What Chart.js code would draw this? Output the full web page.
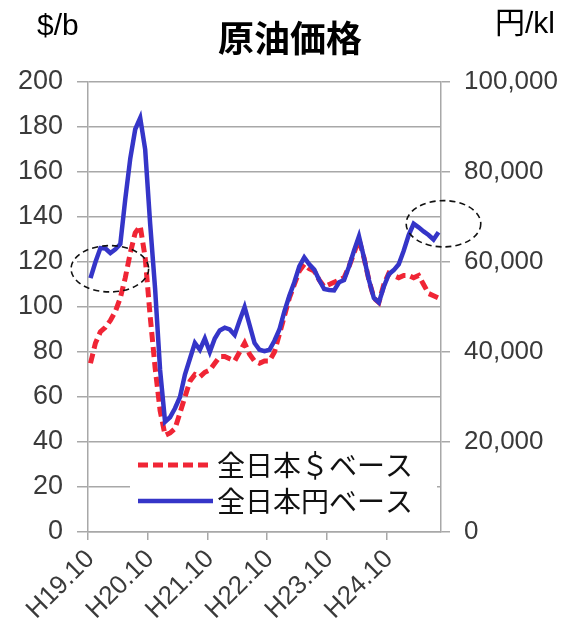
<!DOCTYPE html>
<html>
<head>
<meta charset="utf-8">
<script src="https://cdn.jsdelivr.net/npm/chart.js@4"></script>
<style>
  body { margin: 0; background: #fff; }
  canvas { display: block; }
</style>
</head>
<body>
<canvas id="oilChart" width="570" height="640"></canvas>
<script>
// monthly, H19.10 (Oct 2007) through H25.8
var months = [];
for (var i = 0; i < 71; i++) {
    var m = (9 + i) % 12 + 1;
    var y = 19 + Math.floor((9 + i) / 12);
    months.push("H" + y + "." + m);
}

// 全日本 CIF, $/b
var dollarPerBarrel = [
    75, 84, 89, 91, 94, 98, 104, 113, 124, 133, 136, 122,
    96, 73, 54, 43, 44, 46, 53, 60, 67, 70, 69, 71,
    72, 75, 78, 78, 77, 76, 80, 84, 79, 76, 75, 76,
    76, 80, 88, 96, 104, 110, 116, 119, 117, 116, 112, 109,
    110, 111, 112, 113, 118, 124, 130, 122, 112, 104, 102, 110,
    115, 114, 113, 114, 114, 113, 114, 110, 106, 105, 104
];

// 全日本 CIF, 円/kl
var yenPerKl = [
    56400, 60000, 63100, 63000, 62000, 62800, 64000, 74000, 83000, 89500, 92000, 85000,
    68500, 54000, 36000, 24500, 25500, 27500, 30000, 35000, 38500, 42000, 40500, 43000,
    40000, 43000, 44800, 45400, 45000, 43800, 47000, 50000, 46000, 42000, 40500, 40200,
    40500, 42500, 45000, 49000, 52500, 55500, 59000, 61000, 59500, 58300, 56000, 54000,
    53800, 53700, 55500, 56000, 59000, 62500, 65700, 61000, 56000, 52000, 51000, 54500,
    57300, 58200, 59500, 62500, 66000, 68500, 67700, 66800, 66000, 65000, 66600
];

var usdTicks = [0, 20, 40, 60, 80, 100, 120, 140, 160, 180, 200];
var yenTicks = [0, 20000, 40000, 60000, 80000, 100000];

var gridColor = "#a8a8a8";
var tickColor = "#3a3a3a";
var latinFont = "'Liberation Sans', Arial, 'Noto Sans CJK JP', sans-serif";
var jpFont = "'Noto Sans CJK JP', 'Liberation Sans', sans-serif";

// dashed rings: centre (category index, $/b) and radii (categories, $/b)
var rings = [
    { x: 3.9, y: 117, rx: 7.8, ry: 10.3 },
    { x: 71, y: 137, rx: 7.5, ry: 10.3 }
];

var extras = {
    id: "extras",
    afterDatasetsDraw: function (chart) {
        var c = chart.ctx;
        var xs = chart.scales.x;
        var ys = chart.scales.yUsd;
        var step = xs.getPixelForValue(1) - xs.getPixelForValue(0);
        var unit = ys.getPixelForValue(0) - ys.getPixelForValue(1);

        c.save();
        c.strokeStyle = "#111";
        c.lineWidth = 1.6;
        c.setLineDash([6, 4]);
        rings.forEach(function (r) {
            c.beginPath();
            c.ellipse(xs.getPixelForValue(r.x), ys.getPixelForValue(r.y),
                r.rx * step, r.ry * unit, 0, 0, Math.PI * 2);
            c.stroke();
        });
        c.restore();

        // legend box inside the plot
        var area = chart.chartArea;
        var left = area.left + 42, right = area.right - 4;
        var top = area.bottom - 85, bottom = area.bottom - 4;
        c.save();
        c.fillStyle = "#fff";
        c.fillRect(left, top, right - left, bottom - top);
        var items = [chart.data.datasets[1], chart.data.datasets[0]];
        items.forEach(function (ds, k) {
            var ly = top + 18 + k * 36;
            c.strokeStyle = ds.borderColor;
            c.lineWidth = ds.borderWidth;
            c.setLineDash(ds.borderDash || []);
            c.beginPath();
            c.moveTo(left + 8, ly);
            c.lineTo(left + 83, ly);
            c.stroke();
            c.fillStyle = "#111";
            c.font = "28px " + jpFont;
            c.textBaseline = "middle";
            c.textAlign = "left";
            c.fillText(ds.label, left + 87, ly);
        });
        c.restore();
    },
    afterDraw: function (chart) {
        var c = chart.ctx;
        c.save();
        c.fillStyle = "#000";
        c.textBaseline = "middle";
        c.textAlign = "center";
        c.font = "bold 36px " + jpFont;
        c.fillText("原油価格", 290, 38);
        c.textAlign = "left";
        c.font = "30px " + latinFont;
        c.fillText("$/b", 37, 27);
        c.fillText("円/kl", 495, 25);
        c.restore();
    }
};

var ctx = document.getElementById("oilChart");
var oilChart = new Chart(ctx, {
    type: "line",
    data: {
        labels: months,
        datasets: [{
            label: "全日本円ベース",
            data: yenPerKl,
            yAxisID: "yYen",
            borderColor: "#3535c8",
            borderWidth: 4.5,
            pointRadius: 0,
            tension: 0,
            order: 0
        }, {
            label: "全日本＄ベース",
            data: dollarPerBarrel,
            yAxisID: "yUsd",
            borderColor: "#f02535",
            borderWidth: 5,
            borderDash: [10, 5],
            pointRadius: 0,
            tension: 0,
            order: 1
        }]
    },
    options: {
        responsive: false,
        animation: false,
        layout: { padding: { top: 82, left: 0, right: 0, bottom: 0 } },
        plugins: {
            legend: { display: false },
            tooltip: { enabled: false },
            title: { display: false }
        },
        scales: {
            x: {
                offset: true,
                afterFit: function (s) { s.height = 108; },
                grid: {
                    offset: true,
                    drawOnChartArea: false,
                    tickLength: 8,
                    lineWidth: 1.5,
                    color: function (c) { return c.index % 12 === 0 ? gridColor : "transparent"; }
                },
                border: { color: gridColor, width: 1.5 },
                ticks: {
                    autoSkip: false,
                    minRotation: 45,
                    maxRotation: 45,
                    padding: 4,
                    color: tickColor,
                    font: { size: 26, family: latinFont },
                    callback: function (v, i) { return i % 12 === 0 ? months[i] : ""; }
                }
            },
            yUsd: {
                position: "left",
                min: 0,
                max: 200,
                afterFit: function (s) { s.width = 88; },
                afterBuildTicks: function (s) { s.ticks = usdTicks.map(function (v) { return { value: v }; }); },
                grid: { color: gridColor, lineWidth: 1.5, tickLength: 11 },
                border: { color: gridColor, width: 1.5 },
                ticks: {
                    padding: 14,
                    color: tickColor,
                    font: { size: 27, family: latinFont }
                }
            },
            yYen: {
                position: "right",
                min: 0,
                max: 100000,
                afterFit: function (s) { s.width = 129; },
                afterBuildTicks: function (s) { s.ticks = yenTicks.map(function (v) { return { value: v }; }); },
                grid: { drawOnChartArea: false, color: gridColor, lineWidth: 1.5, tickLength: 9 },
                border: { color: gridColor, width: 1.5 },
                ticks: {
                    padding: 14,
                    color: tickColor,
                    font: { size: 26, family: latinFont },
                    callback: function (v) { return v.toLocaleString("en-US"); }
                }
            }
        }
    },
    plugins: [extras]
});
</script>
</body>
</html>
